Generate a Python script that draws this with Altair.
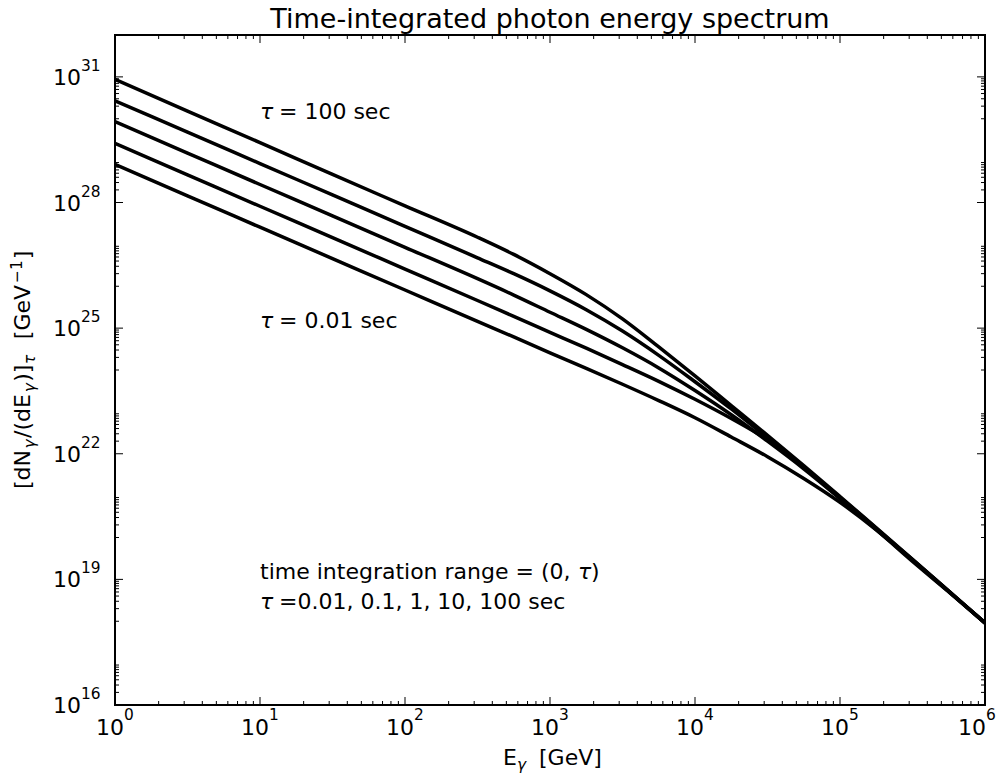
import altair as alt
import pandas as pd

# ---- data (log10 of E and of dN/dE) ----
log_e = [0, 0.5, 1, 1.5, 2, 2.5, 2.75, 3.0, 3.25, 3.5, 3.75, 4.0, 4.25, 4.5, 4.75, 5.0, 5.25, 5.5, 5.75, 6.0]
tau_100 = [30.94, 30.18, 29.43, 28.67, 27.92, 27.17, 26.76, 26.30, 25.80, 25.22, 24.55, 23.86, 23.15, 22.44, 21.72, 20.98, 20.23, 19.48, 18.72, 17.96]
tau_10 = [30.43, 29.68, 28.93, 28.18, 27.43, 26.68, 26.30, 25.89, 25.44, 24.93, 24.35, 23.72, 23.07, 22.38, 21.68, 20.96, 20.22, 19.47, 18.72, 17.96]
tau_1 = [29.93, 29.18, 28.43, 27.68, 26.93, 26.18, 25.79, 25.38, 24.97, 24.53, 24.05, 23.51, 22.93, 22.30, 21.64, 20.93, 20.20, 19.46, 18.71, 17.96]
tau_01 = [29.41, 28.66, 27.91, 27.16, 26.41, 25.66, 25.28, 24.90, 24.52, 24.13, 23.73, 23.30, 22.84, 22.33, 21.68, 20.93, 20.19, 19.45, 18.71, 17.96]
tau_001 = [28.91, 28.16, 27.41, 26.66, 25.91, 25.16, 24.79, 24.41, 24.04, 23.66, 23.27, 22.86, 22.40, 21.93, 21.41, 20.84, 20.18, 19.43, 18.70, 17.96]
taus = ["100", "10", "1", "0.1", "0.01"]
series = [tau_100, tau_10, tau_1, tau_01, tau_001]

x_major = [1, 10, 100, 1e3, 1e4, 1e5, 1e6]
x_major_exp = ["0", "1", "2", "3", "4", "5", "6"]
x_minor = [k * 10.0 ** n for n in range(0, 6) for k in range(2, 10)]
y_major = [1e16, 1e19, 1e22, 1e25, 1e28, 1e31]
y_major_exp = ["16", "19", "22", "25", "28", "31"]
y_minor = [k * 10.0 ** n for n in range(16, 31, 2) for k in range(1, 10) if not (k == 1 and n % 3 == 1)]

# annotations: optional leading italic tau + rest of the text
ann_x = [10, 10, 10, 10]
ann_y = [1e30, 1e25, 1e19, 2e18]
ann_lead = ["\u03c4", "\u03c4", "", "\u03c4"]
ann_rest = ["= 100 sec", "= 0.01 sec", "time integration range = (0,", "=0.01, 0.1, 1, 10, 100 sec"]
ann_has_lead = [True, True, False, True]

TITLE = "Time-integrated photon energy spectrum"

# ---- build tables ----
rows = []
for tau, vals in zip(taus, series):
    for le, lv in zip(log_e, vals):
        rows.append({"E": 10.0 ** le, "N": 10.0 ** lv, "tau": tau})
df = pd.DataFrame(rows)
ann_df = pd.DataFrame({"x": ann_x, "y": ann_y, "lead": ann_lead, "rest": ann_rest, "has": ann_has_lead})

W, H = 870, 670
FONT = "DejaVu Sans"
BIG, SMALL = 22, 15.4

xs = alt.Scale(type="log", domain=[1, 1e6], nice=False)
ys = alt.Scale(type="log", domain=[1e16, 1e32], nice=False)
one = pd.DataFrame({"a": [0]})

lines = alt.Chart(df).mark_line(
    color="black", strokeWidth=3.5, interpolate="monotone", clip=True, strokeJoin="round"
).encode(
    x=alt.X("E:Q", scale=xs, axis=None),
    y=alt.Y("N:Q", scale=ys, axis=None),
    detail="tau:N",
)

ann_base = alt.Chart(ann_df).encode(
    x=alt.X("x:Q", scale=xs, axis=None),
    y=alt.Y("y:Q", scale=ys, axis=None),
)
txt = dict(align="left", baseline="alphabetic", fontSize=BIG, font=FONT, color="black")
ann_layers = [
    ann_base.mark_text(fontStyle="italic", **txt).encode(text="lead:N"),
    ann_base.transform_filter("datum.has").mark_text(dx=19, **txt).encode(text="rest:N"),
    ann_base.transform_filter("!datum.has").mark_text(**txt).encode(text="rest:N"),
    ann_base.transform_filter("!datum.has").mark_text(dx=318, fontStyle="italic", **txt).encode(text=alt.value("\u03c4")),
    ann_base.transform_filter("!datum.has").mark_text(dx=331, **txt).encode(text=alt.value(")")),
]


def xticks(values, length, top):
    d = pd.DataFrame({"v": values})
    y0, y1 = (0, length) if top else (H, H - length)
    return alt.Chart(d).mark_rule(color="black", strokeWidth=1).encode(
        x=alt.X("v:Q", scale=xs, axis=None), y=alt.value(y0), y2=alt.value(y1)
    )


def yticks(values, length, right):
    d = pd.DataFrame({"v": values})
    x0, x1 = (W, W - length) if right else (0, length)
    return alt.Chart(d).mark_rule(color="black", strokeWidth=1).encode(
        y=alt.Y("v:Q", scale=ys, axis=None), x=alt.value(x0), x2=alt.value(x1)
    )


ticks = [
    xticks(x_major, 8, False), xticks(x_major, 8, True),
    xticks(x_minor, 4, False), xticks(x_minor, 4, True),
    yticks(y_major, 8, False), yticks(y_major, 8, True),
    yticks(y_minor, 4, False), yticks(y_minor, 4, True),
]

xlab = pd.DataFrame({"v": x_major, "base": ["10"] * len(x_major), "exp": x_major_exp,
                     "last": [i == len(x_major) - 1 for i in range(len(x_major))]})
ylab = pd.DataFrame({"v": y_major, "base": ["10"] * len(y_major), "exp": y_major_exp})


def xlabel_layers(flt, shift):
    b = alt.Chart(xlab).transform_filter(flt).encode(x=alt.X("v:Q", scale=xs, axis=None))
    return [
        b.mark_text(align="right", baseline="alphabetic", fontSize=BIG, font=FONT, dx=shift).encode(
            y=alt.value(H + 30), text="base:N"),
        b.mark_text(align="left", baseline="alphabetic", fontSize=SMALL, font=FONT, dx=shift).encode(
            y=alt.value(H + 15), text="exp:N"),
    ]


xlabels = xlabel_layers("!datum.last", 9) + xlabel_layers("datum.last", 1)

yl_base = alt.Chart(ylab).mark_text(align="right", baseline="alphabetic", fontSize=BIG, font=FONT, dy=8).encode(
    y=alt.Y("v:Q", scale=ys, axis=None), x=alt.value(-34), text="base:N")
yl_exp = alt.Chart(ylab).mark_text(align="left", baseline="alphabetic", fontSize=SMALL, font=FONT, dy=-6).encode(
    y=alt.Y("v:Q", scale=ys, axis=None), x=alt.value(-34), text="exp:N")


def piece(text, x, y, size, dx=0, dy=0, angle=0, italic=False, align="left"):
    return alt.Chart(one).mark_text(
        align=align, baseline="alphabetic", fontSize=size, font=FONT, angle=angle,
        dx=dx, dy=dy, fontStyle="italic" if italic else "normal", color="black"
    ).encode(x=alt.value(x), y=alt.value(y), text=alt.value(text))


# chart title
title = piece(TITLE, W / 2, -7, 27, align="center")

# x axis title: E_gamma  [GeV]
XT = H + 60
xt = [
    piece("E", 388, XT, BIG),
    piece("\u03b3", 402, XT, SMALL, dy=5, italic=True),
    piece("[GeV]", 424, XT, BIG),
]
# y axis title: [dN_gamma/(dE_gamma)]_tau  [GeV^-1]   (rotated)
YX, YY = -85, 454
yt = [
    piece("[dN", YX, YY, BIG, dx=0, angle=270),
    piece("\u03b3", YX, YY, SMALL, dx=40.5, dy=5, angle=270, italic=True),
    piece("/(dE", YX, YY, BIG, dx=51.0, angle=270),
    piece("\u03b3", YX, YY, SMALL, dx=96.7, dy=5, angle=270, italic=True),
    piece(")]", YX, YY, BIG, dx=107.2, angle=270),
    piece("\u03c4", YX, YY, SMALL, dx=125.0, dy=5, angle=270, italic=True),
    piece("[GeV", YX, YY, BIG, dx=149.8, angle=270),
    piece("\u22121", YX, YY, SMALL, dx=206.1, dy=-8, angle=270),
    piece("]", YX, YY, BIG, dx=229.7, angle=270),
]

chart = alt.layer(
    *ticks, lines, *ann_layers, *xlabels, yl_base, yl_exp, title, *xt, *yt
).properties(
    width=W,
    height=H,
    padding={"left": 107, "top": 27, "right": 12, "bottom": 70},
    autosize=alt.AutoSizeParams(type="none"),
).configure(
    font=FONT
).configure_view(
    stroke="black", strokeWidth=2
)

chart.save("out.html", embed_options={"renderer": "svg", "actions": False})
